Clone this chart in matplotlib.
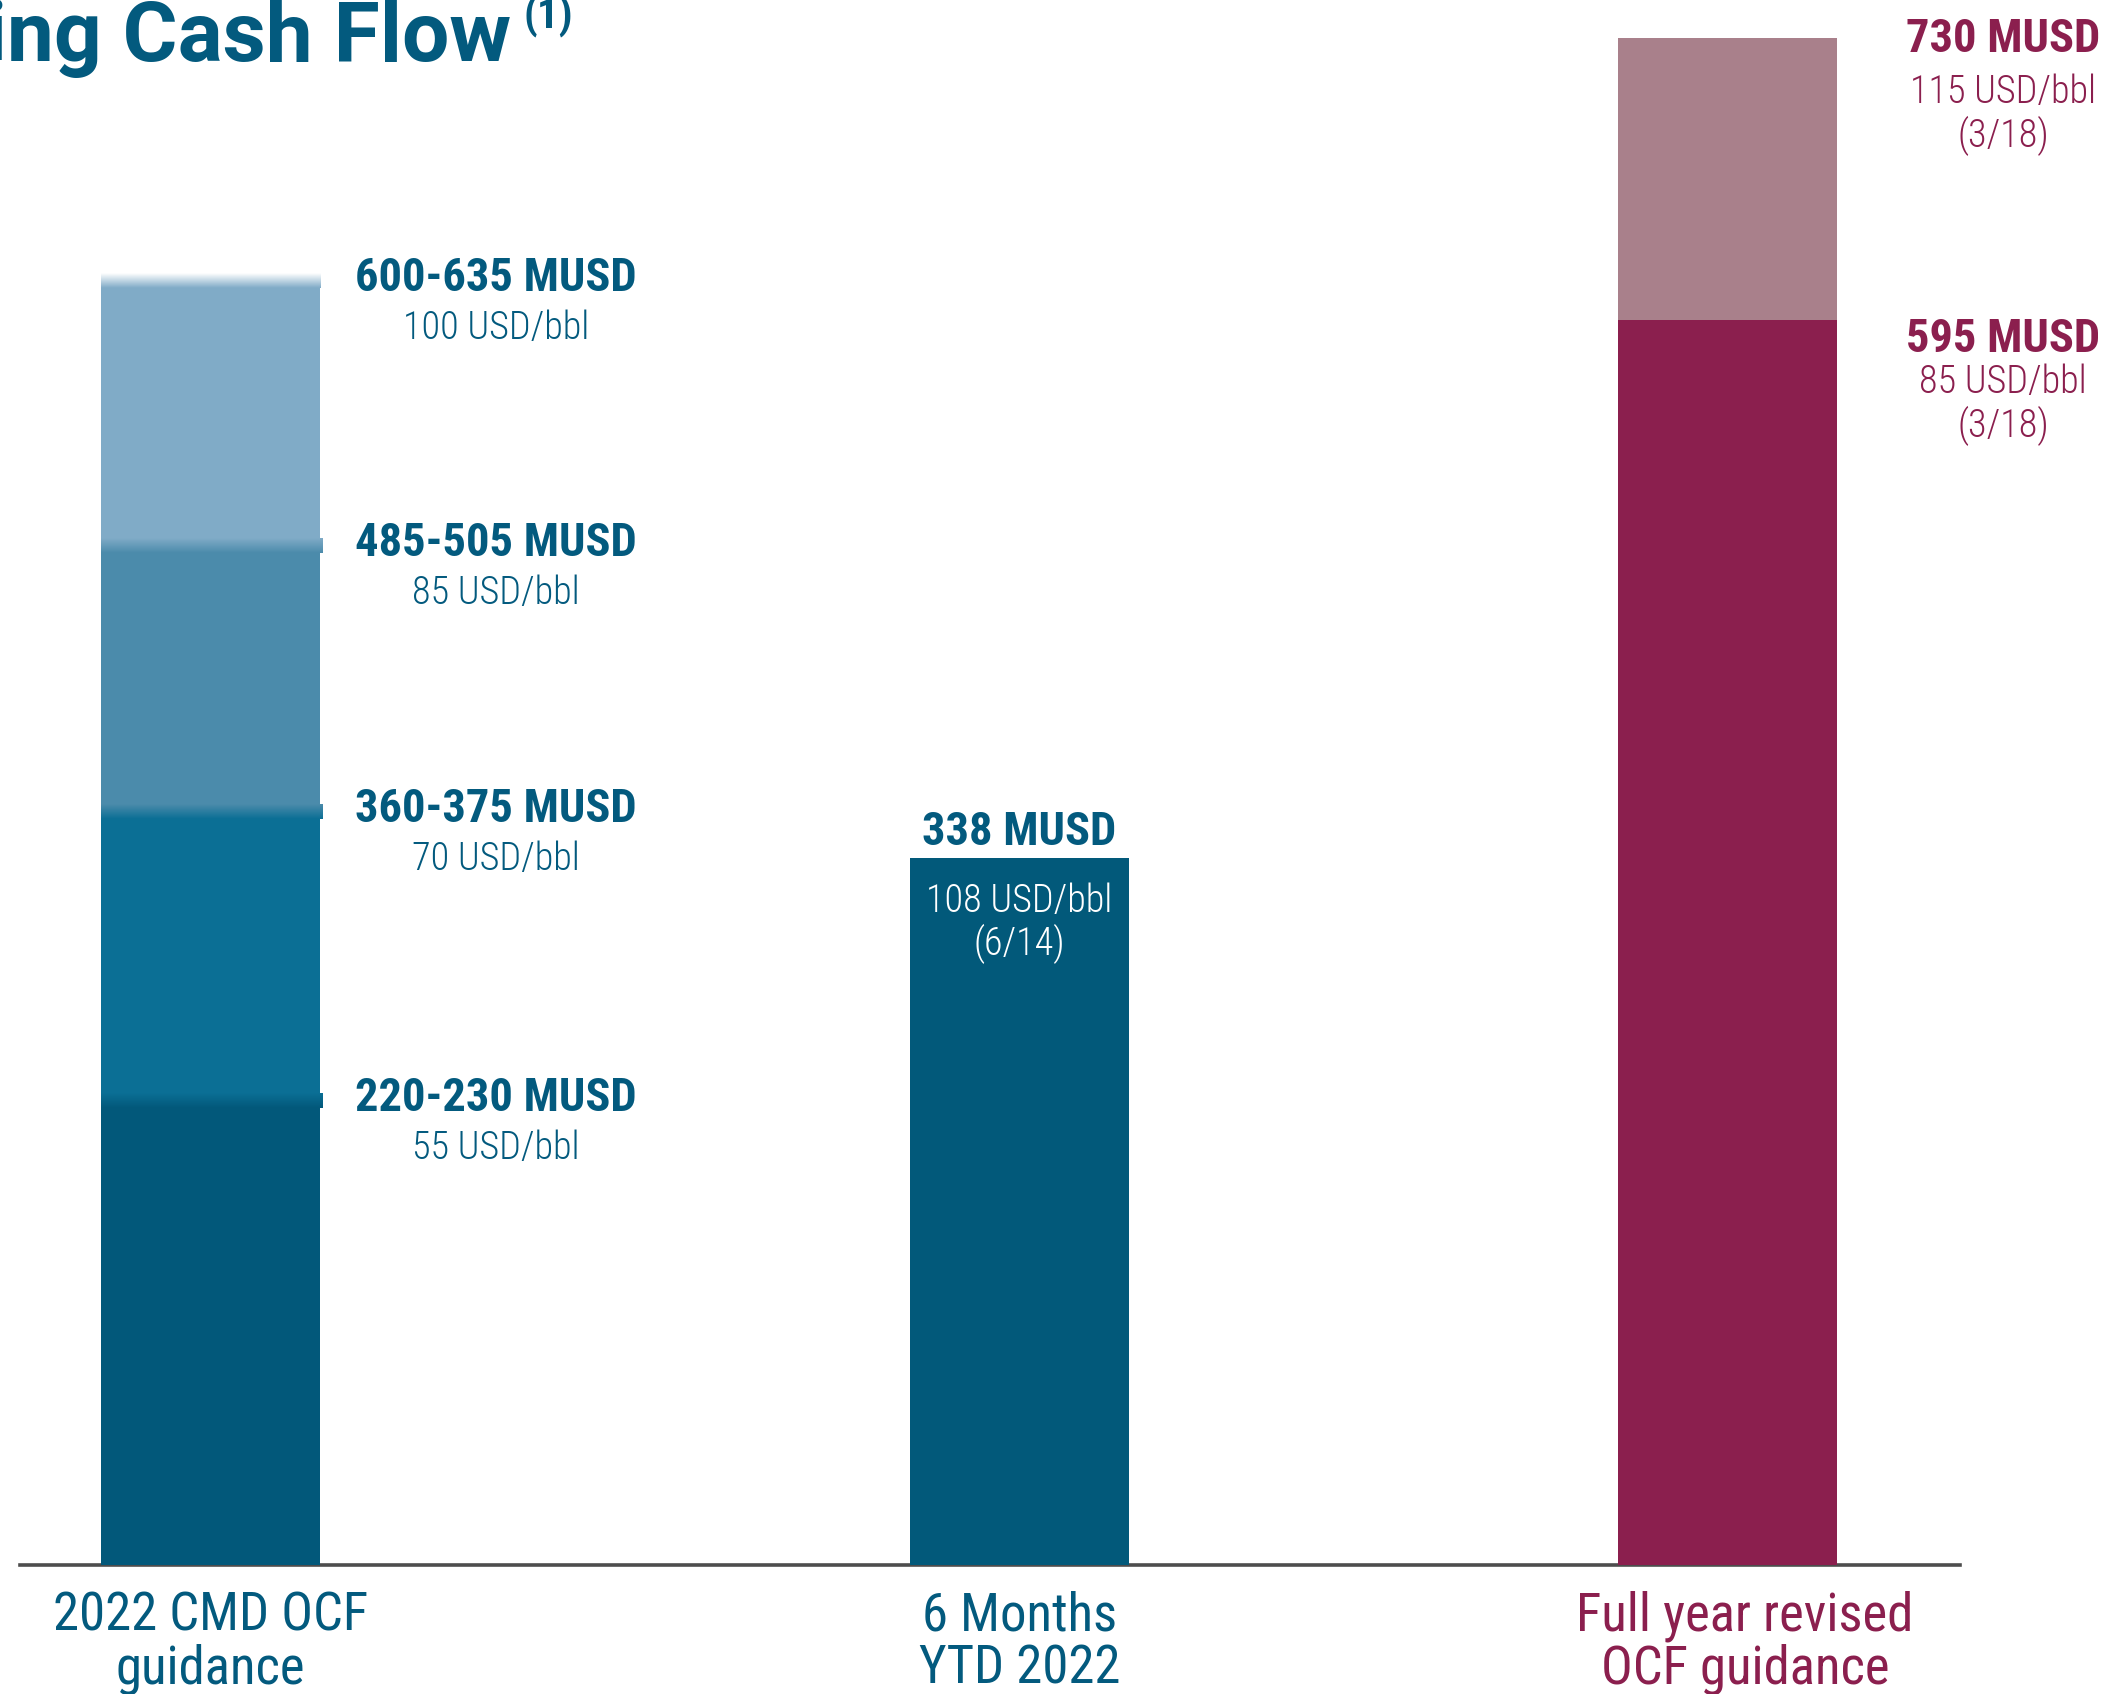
import numpy as np
import matplotlib
matplotlib.use('Agg')
import matplotlib.pyplot as plt
from matplotlib.colors import to_rgb

plt.rcParams['font.family'] = ['Roboto Condensed', 'DejaVu Sans']

# data
categories = [['2022 CMD OCF', 'guidance'], ['6 Months', 'YTD 2022'], ['Full year revised', 'OCF guidance']]
cmd_levels = [222, 360, 487, 614]
cmd_labels = ['220-230 MUSD', '360-375 MUSD', '485-505 MUSD', '600-635 MUSD']
cmd_prices = ['55 USD/bbl', '70 USD/bbl', '85 USD/bbl', '100 USD/bbl']
ytd_value = 338
ytd_label = '338 MUSD'
ytd_price = ['108 USD/bbl', '(6/14)']
fy_levels = [595, 730]
fy_labels = ['595 MUSD', '730 MUSD']
fy_prices = [['85 USD/bbl', '(3/18)'], ['115 USD/bbl', '(3/18)']]

# style
BLUE = '#035A7E'
MAROON = '#8B1F4E'
cmd_colors = ['#02587A', '#0B6F95', '#4B8BAB', '#80ABC7']
fy_colors = ['#8B1F4E', '#A9808B']
W, H = 2107, 1694
Y0 = 1565          # pixel row of the zero line
BW = 219           # bar width in pixels

fig = plt.figure(figsize=(W / 100, H / 100), dpi=100)
ax = fig.add_axes([20 / W, (H - Y0) / H, 1940 / W, (Y0 - 38) / H])
xpos = [(210.5 - 20) / BW, (1019.5 - 20) / BW, (1727.5 - 20) / BW]
bw = 1.0

# guidance bar, stacked bands
bottom = 0
for lvl, col in zip(cmd_levels, cmd_colors):
    ax.bar(xpos[0], lvl - bottom, bw, bottom=bottom, color=col, zorder=3, linewidth=0)
    bottom = lvl


def fade(x, y0, y1, c0, c1, nub=0.0):
    c0, c1 = np.array(to_rgb(c0)), np.array(to_rgb(c1))
    t = np.linspace(0, 1, 60)[:, None]
    img = (c0 * (1 - t) + c1 * t)[:, None, :]
    ax.imshow(img, extent=[x - bw / 2, x + bw / 2 + nub, y0, y1], origin='lower',
              aspect='auto', zorder=4, interpolation='bilinear')


d = 3.4
for i in range(len(cmd_levels) - 1):
    fade(xpos[0], cmd_levels[i] - d, cmd_levels[i] + d, cmd_colors[i], cmd_colors[i + 1], nub=2 / BW)
fade(xpos[0], cmd_levels[-1] - d, cmd_levels[-1] + d, cmd_colors[-1], 'white')

# YTD bar
ax.bar(xpos[1], ytd_value, bw, color='#02597A', zorder=3, linewidth=0)

# full year bar
bottom = 0
for lvl, col in zip(fy_levels, fy_colors):
    ax.bar(xpos[2], lvl - bottom, bw, bottom=bottom, color=col, zorder=3, linewidth=0)
    bottom = lvl

ax.set_xlim(0, 1940 / BW)
ax.set_ylim(0, 730)


def label(txt, x, y, dy, size, col, weight='light'):
    ax.annotate(txt, (x, y), xytext=(0, dy), textcoords='offset pixels', ha='center',
                va='baseline', fontsize=size, color=col, zorder=6, annotation_clip=False,
                fontweight=weight)


BIG, SMALL = 33.5, 27.5
lx = (496 - 20) / BW
for lvl, lab, pr in zip(cmd_levels, cmd_labels, cmd_prices):
    label(lab, lx, lvl, -10, BIG, BLUE, 'bold')
    label(pr, lx, lvl, -58, SMALL, BLUE)

label(ytd_label, xpos[1], ytd_value, 13, BIG, BLUE, 'bold')
for line, dy in zip(ytd_price, [-54, -97]):
    label(line, xpos[1], ytd_value, dy, SMALL, 'white')

rx = (2003 - 20) / BW
fy_offsets = [[-32, -73, -117], [-14, -65, -109]]
for lvl, lab, prs, offs in zip(fy_levels, fy_labels, fy_prices, fy_offsets):
    label(lab, rx, lvl, offs[0], BIG, MAROON, 'bold')
    for line, dy in zip(prs, offs[1:]):
        label(line, rx, lvl, dy, SMALL, MAROON)

cat_x = [xpos[0], xpos[1], (1745 - 20) / BW]
cat_colors = [BLUE, BLUE, MAROON]
for x, lines, col in zip(cat_x, categories, cat_colors):
    for line, dy in zip(lines, [-65, -118]):
        label(line, x, 0, dy, 38, col, 'normal')

for s in ['top', 'left', 'right']:
    ax.spines[s].set_visible(False)
ax.spines['bottom'].set_color('#4d4d4d')
ax.spines['bottom'].set_linewidth(2.6)
ax.set_xticks([])
ax.set_yticks([])
ax.patch.set_alpha(0)

# title, cut at the left edge
fig.text(511 / W, 1 - 61 / H, 'Operating Cash Flow', ha='right', va='baseline',
         fontsize=60.5, fontweight='bold', color=BLUE, family=['Roboto', 'DejaVu Sans'])
fig.text(524 / W, 1 - 28 / H, '(1)', ha='left', va='baseline',
         fontsize=31, fontweight='bold', color=BLUE)

fig.savefig('out.png', dpi=100, facecolor='white')
